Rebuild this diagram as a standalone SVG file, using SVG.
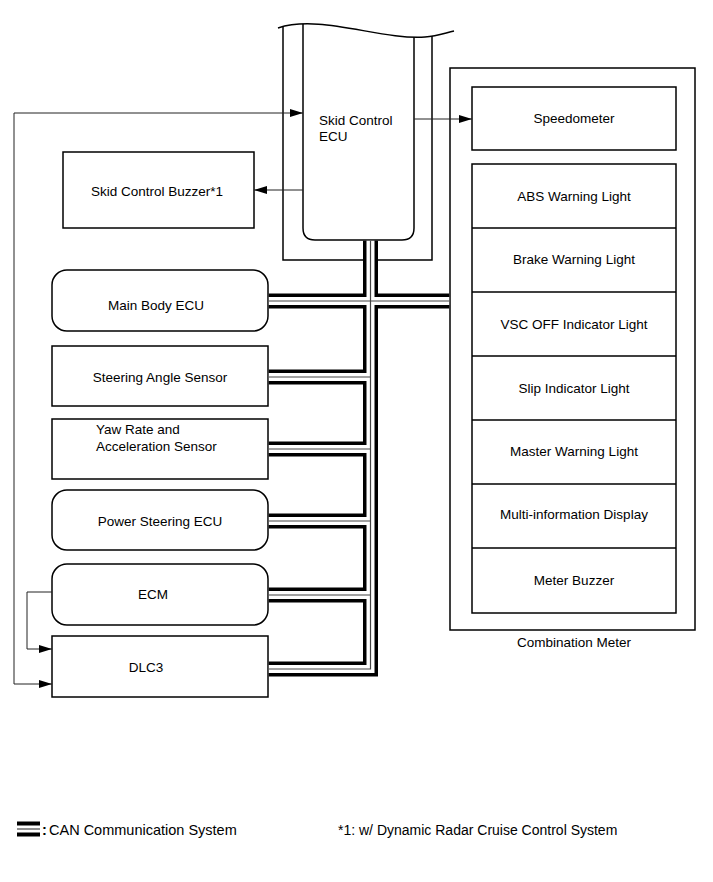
<svg xmlns="http://www.w3.org/2000/svg" width="713" height="882" viewBox="0 0 713 882">
<style>
text{font-family:"Liberation Sans",Arial,sans-serif;font-size:13.5px;fill:#000}
.c{text-anchor:middle}
.box{fill:#fff;stroke:#000;stroke-width:1.5}
.frame{fill:none;stroke:#000;stroke-width:1.5}
.ln{fill:none;stroke:#222;stroke-width:1}
.bk{fill:none;stroke:#000;stroke-width:15;stroke-linejoin:miter}
.wh{fill:none;stroke:#fff;stroke-width:8;stroke-linejoin:miter}
.gr{fill:none;stroke:#444;stroke-width:1.2;stroke-linejoin:miter}
</style>
<defs>
<marker id="ah" viewBox="0 0 13 8" refX="13" refY="4" markerWidth="13" markerHeight="8" markerUnits="userSpaceOnUse" orient="auto-start-reverse">
<path d="M0,0 L13,4 L0,8 Z" fill="#000"/>
</marker>
<clipPath id="wv">
<path d="M278,28 C320,14 380,40 425,37 C437,36 445,33 454,31 L454,300 L276,300 Z"/>
</clipPath>
</defs>
<rect width="713" height="882" fill="#fff"/>

<g id="skid-control-ecu">
<path d="M278,28 C320,14 380,40 425,37 C437,36 445,33 454,31" fill="none" stroke="#000" stroke-width="1.5"/>
<g clip-path="url(#wv)">
<path class="frame" d="M283,10 V260 H432 V10"/>
<path class="frame" d="M303,10 V228 Q303,240 315,240 H402 Q414,240 414,228 V10"/>
</g>
<text x="319" y="125">Skid Control</text>
<text x="319" y="141">ECU</text>
</g>

<g id="skid-control-buzzer">
<rect class="box" x="63" y="152" width="191" height="76"/>
<text class="c" x="157" y="196">Skid Control Buzzer*1</text>
</g>

<g id="main-body-ecu">
<rect class="box" x="52" y="270" width="216" height="61" rx="15"/>
<text class="c" x="156" y="310">Main Body ECU</text>
</g>
<g id="steering-angle-sensor">
<rect class="box" x="52" y="346" width="216" height="60"/>
<text class="c" x="160" y="382">Steering Angle Sensor</text>
</g>
<g id="yaw-rate-sensor">
<rect class="box" x="52" y="419" width="216" height="60"/>
<text x="96" y="434">Yaw Rate and</text>
<text x="96" y="451">Acceleration Sensor</text>
</g>
<g id="power-steering-ecu">
<rect class="box" x="52" y="490" width="216" height="60" rx="15"/>
<text class="c" x="160" y="526">Power Steering ECU</text>
</g>
<g id="ecm">
<rect class="box" x="52" y="564" width="216" height="61" rx="15"/>
<text class="c" x="153" y="599">ECM</text>
</g>
<g id="dlc3">
<rect class="box" x="52" y="636" width="216" height="61"/>
<text class="c" x="146" y="672">DLC3</text>
</g>

<g id="combination-meter">
<rect class="frame" x="450" y="68" width="245" height="562"/>
<text class="c" x="574" y="647">Combination Meter</text>
</g>
<g id="speedometer">
<rect class="box" x="472" y="87" width="204" height="63"/>
<text class="c" x="574" y="123">Speedometer</text>
</g>
<g id="meter-items">
<rect class="box" x="472" y="164" width="204" height="449"/>
<path class="frame" d="M472,228 H676 M472,292 H676 M472,356 H676 M472,420 H676 M472,484 H676 M472,548 H676"/>
<text class="c" x="574" y="201">ABS Warning Light</text>
<text class="c" x="574" y="264">Brake Warning Light</text>
<text class="c" x="574" y="329">VSC OFF Indicator Light</text>
<text class="c" x="574" y="393">Slip Indicator Light</text>
<text class="c" x="574" y="456">Master Warning Light</text>
<text class="c" x="574" y="519">Multi-information Display</text>
<text class="c" x="574" y="585">Meter Buzzer</text>
</g>

<g id="connectors">
<path class="ln" d="M303,113 H14 V684 H52" marker-start="url(#ah)" marker-end="url(#ah)"/>
<path class="ln" d="M52,592 H27 V649 H52" marker-end="url(#ah)"/>
<path class="ln" d="M303,190 H254" marker-end="url(#ah)"/>
<path class="ln" d="M414,119 H472" marker-end="url(#ah)"/>
</g>

<g id="can-bus">
<path class="bk" d="M370.5,240.8 V669 H268.8 M268.8,301 H449.2 M370.5,377 H268.8 M370.5,449 H268.8 M370.5,521 H268.8 M370.5,595 H268.8"/>
<path class="wh" d="M370.5,240.8 V669 H268.8 M268.8,301 H449.2 M370.5,377 H268.8 M370.5,449 H268.8 M370.5,521 H268.8 M370.5,595 H268.8"/>
<path class="gr" d="M370.5,240.8 V669 H268.8 M268.8,301 H449.2 M370.5,377 H268.8 M370.5,449 H268.8 M370.5,521 H268.8 M370.5,595 H268.8"/>
</g>

<g id="legend">
<path d="M17,829 H40" fill="none" stroke="#000" stroke-width="15"/>
<path d="M17,829 H40" fill="none" stroke="#fff" stroke-width="7"/>
<path d="M17,829 H40" fill="none" stroke="#444" stroke-width="1.2"/>
<text x="42" y="835" style="font-size:14.5px;font-weight:bold">:</text>
<text x="49" y="835" style="font-size:14.5px">CAN Communication System</text>
<text x="338" y="835" style="font-size:14px">*1: w/ Dynamic Radar Cruise Control System</text>
</g>
</svg>
